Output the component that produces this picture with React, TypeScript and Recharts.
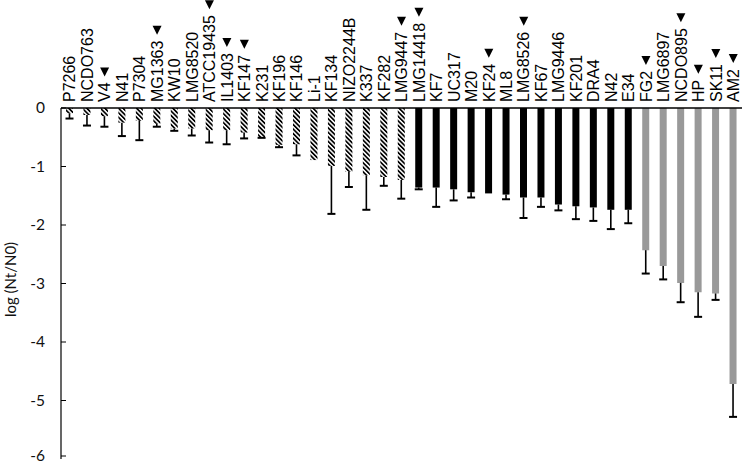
import React from 'react';
import { BarChart, Bar, XAxis, YAxis, Cell } from 'recharts';

const strains = [
  'P7266', 'NCDO763', 'V4', 'N41', 'P7304', 'MG1363', 'KW10', 'LMG8520', 'ATCC19435', 'IL1403',
  'KF147', 'K231', 'KF196', 'KF146', 'Li-1', 'KF134', 'NIZO2244B', 'K337', 'KF282', 'LMG9447',
  'LMG14418', 'KF7', 'UC317', 'M20', 'KF24', 'ML8', 'LMG8526', 'KF67', 'LMG9446', 'KF201',
  'DRA4', 'N42', 'E34', 'FG2', 'LMG6897', 'NCDO895', 'HP', 'SK11', 'AM2',
];

const logReduction = [
  -0.09, -0.12, -0.14, -0.25, -0.22, -0.27, -0.35, -0.35, -0.38, -0.38,
  -0.42, -0.50, -0.63, -0.62, -0.89, -0.99, -1.09, -1.15, -1.18, -1.23,
  -1.36, -1.36, -1.39, -1.44, -1.46, -1.48, -1.53, -1.53, -1.65, -1.68,
  -1.70, -1.74, -1.74, -2.43, -2.70, -2.99, -3.15, -3.17, -4.72,
];

const errors = [
  0.09, 0.18, 0.18, 0.23, 0.33, 0.05, 0.04, 0.12, 0.21, 0.24,
  0.10, 0.01, 0.04, 0.19, 0.0, 0.82, 0.26, 0.59, 0.15, 0.32,
  0.03, 0.33, 0.19, 0.09, 0.0, 0.08, 0.35, 0.16, 0.10, 0.22,
  0.23, 0.33, 0.23, 0.40, 0.23, 0.33, 0.42, 0.11, 0.56,
];

// group per strain: h = hatched, b = black, g = grey
const groups = [
  'h', 'h', 'h', 'h', 'h', 'h', 'h', 'h', 'h', 'h',
  'h', 'h', 'h', 'h', 'h', 'h', 'h', 'h', 'h', 'h',
  'b', 'b', 'b', 'b', 'b', 'b', 'b', 'b', 'b', 'b',
  'b', 'b', 'b', 'g', 'g', 'g', 'g', 'g', 'g',
];

const markedStrains = [
  'V4', 'MG1363', 'ATCC19435', 'IL1403', 'KF147', 'LMG9447', 'LMG14418', 'KF24',
  'LMG8526', 'FG2', 'NCDO895', 'HP', 'SK11', 'AM2',
];

const yTicks = [0, -1, -2, -3, -4, -5, -6];

const data = strains.map((name, i) => ({
  name,
  value: logReduction[i],
  err: -errors[i],
}));

const fillFor: Record<string, string> = {
  h: 'url(#hatch)',
  b: '#000000',
  g: '#999999',
};

const LABEL_SIZE = 16;
const LABEL_FAMILY = "'Liberation Sans', Arial, sans-serif";
let ctx: CanvasRenderingContext2D | null = null;
const measure = (s: string) => {
  if (!ctx) ctx = document.createElement('canvas').getContext('2d');
  if (!ctx) return s.length * 9;
  ctx.font = `${LABEL_SIZE}px ${LABEL_FAMILY}`;
  return ctx.measureText(s).width;
};

const CatTick = (props: any) => {
  const { x, y, payload } = props;
  const name = payload.value as string;
  const base = y - 6;
  const bx = x + 5.7;
  const w = measure(name);
  const marked = markedStrains.includes(name);
  const triBottom = base - w - 6;
  return (
    <g>
      <text
        x={bx}
        y={base}
        transform={`rotate(-90 ${bx} ${base})`}
        textAnchor="start"
        fontFamily={LABEL_FAMILY}
        fontSize={LABEL_SIZE}
        fill="#000"
      >
        {name}
      </text>
      {marked && (
        <polygon
          points={`${x - 4.5},${triBottom - 9} ${x + 4.5},${triBottom - 9} ${x},${triBottom}`}
          fill="#000"
        />
      )}
    </g>
  );
};

const ValTick = (props: any) => {
  const { x, y, payload } = props;
  return (
    <g>
      <line x1={x} x2={x + 5} y1={y} y2={y} stroke="#000" strokeWidth={1} />
      <text
        x={x - 16}
        y={y}
        dy="0.35em"
        textAnchor="end"
        fontFamily="Lato, 'Open Sans', sans-serif"
        fontSize={15.5}
        fill="#111"
      >
        {payload.value}
      </text>
    </g>
  );
};

const ErrShape = (props: any) => {
  const { x, y, width, height } = props;
  if (!height || Math.abs(height) < 0.5) return null;
  const top = Math.min(y, y + height);
  const bot = Math.max(y, y + height);
  const cx = x + width / 2;
  return (
    <g>
      <line x1={cx} x2={cx} y1={top} y2={bot} stroke="#000" strokeWidth={1.6} />
      <line x1={cx - 4} x2={cx + 4} y1={bot} y2={bot} stroke="#000" strokeWidth={2} />
    </g>
  );
};

const YLabel = (props: any) => {
  const { viewBox } = props;
  const cx = 10;
  const cy = viewBox.y + viewBox.height / 2 - 4;
  return (
    <text
      x={cx}
      y={cy}
      transform={`rotate(-90 ${cx} ${cy})`}
      textAnchor="middle"
      dominantBaseline="central"
      fontFamily="Lato, 'Open Sans', sans-serif"
      fontSize={15}
      fill="#111"
    >
      log (Nt/N0)
    </text>
  );
};

export default function App() {
  return (
    <div style={{ position: 'absolute', left: 0, top: 0, width: 742, height: 465, background: '#fff' }}>
      <BarChart
        width={742}
        height={465}
        data={data}
        margin={{ top: 0, right: 0, bottom: 6, left: 0 }}
        barSize={7}
      >
        <defs>
          <pattern
            id="hatch"
            width="3.2"
            height="3.2"
            patternUnits="userSpaceOnUse"
            patternTransform="rotate(-45)"
          >
            <rect x="0" y="0" width="3.2" height="3.2" fill="#fff" />
            <rect x="0" y="0" width="1.7" height="3.2" fill="#000" />
          </pattern>
        </defs>
        <XAxis
          dataKey="name"
          orientation="top"
          height={108}
          interval={0}
          tickLine={false}
          tickSize={0}
          tickMargin={0}
          tick={<CatTick />}
          axisLine={{ stroke: '#000', strokeWidth: 1.6 }}
        />
        <YAxis
          type="number"
          domain={[-6, 0]}
          ticks={yTicks}
          width={61}
          tickLine={false}
          tickSize={0}
          tickMargin={0}
          tick={<ValTick />}
          axisLine={{ stroke: '#000', strokeWidth: 1.2 }}
          label={<YLabel />}
        />
        <Bar dataKey="value" stackId="s" isAnimationActive={false}>
          {data.map((d, i) => (
            <Cell key={d.name} fill={fillFor[groups[i]]} />
          ))}
        </Bar>
        <Bar dataKey="err" stackId="s" isAnimationActive={false} shape={<ErrShape />} />
      </BarChart>
    </div>
  );
}
